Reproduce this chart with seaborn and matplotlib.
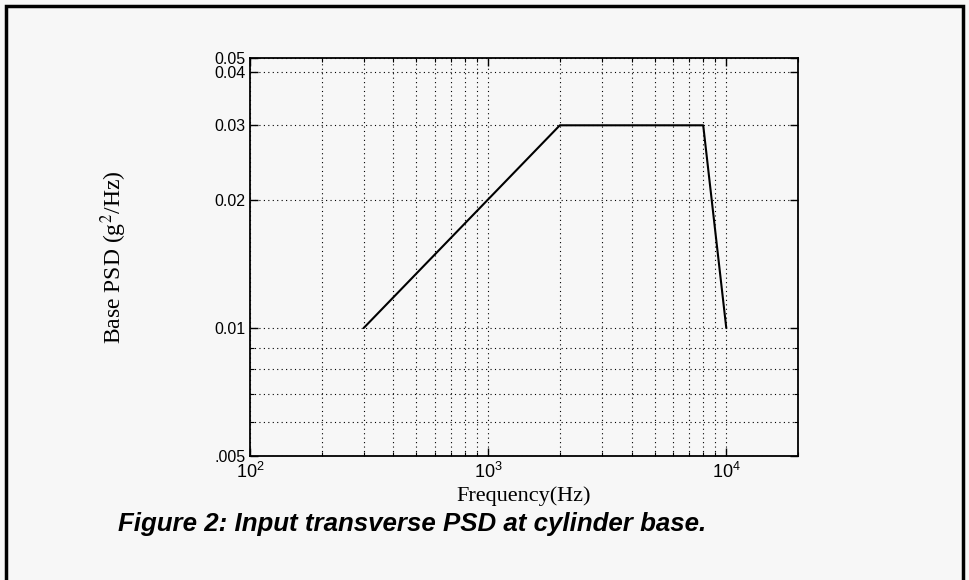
import numpy as np
import pandas as pd
import matplotlib
matplotlib.use("Agg")
import matplotlib.pyplot as plt
import matplotlib.ticker as mticker
from matplotlib.patches import Rectangle
import seaborn as sns

# PSD breakpoints
freq_hz = [300, 2000, 8000, 10000]
psd_g2hz = [0.01, 0.03, 0.03, 0.01]

ytick_vals = [0.005, 0.01, 0.02, 0.03, 0.04, 0.0432]
ytick_labels = [".005", "0.01", "0.02", "0.03", "0.04", "0.05"]
yminor_vals = [0.006, 0.007, 0.008, 0.009]
xtick_vals = [1e2, 1e3, 1e4]
xtick_labels = [r"$10^2$", r"$10^3$", r"$10^4$"]

BG = "#f7f7f7"

sns.set_style("ticks")
plt.rcParams["font.family"] = ["Liberation Sans", "DejaVu Sans"]
plt.rcParams["text.color"] = "black"
plt.rcParams["mathtext.fontset"] = "custom"
plt.rcParams["mathtext.rm"] = "Liberation Sans"
plt.rcParams["mathtext.it"] = "Liberation Sans:italic"

df = pd.DataFrame({"freq": freq_hz, "psd": psd_g2hz})

fig = plt.figure(figsize=(9.69, 5.80), dpi=100, facecolor=BG)
ax = fig.add_axes([0.258, 0.2138, 0.5655, 0.6862])
ax.set_facecolor(BG)

sns.lineplot(data=df, x="freq", y="psd", color="black", linewidth=1.5, ax=ax,
             sort=False, estimator=None)

ax.set_xscale("log")
ax.set_yscale("log")
ax.set_xlim(100, 20000)
ax.set_ylim(0.005, 0.0432)

ax.xaxis.set_major_locator(mticker.FixedLocator(xtick_vals))
ax.xaxis.set_major_formatter(mticker.FixedFormatter(xtick_labels))
ax.xaxis.set_minor_locator(mticker.LogLocator(base=10, subs=np.arange(2, 10)))
ax.xaxis.set_minor_formatter(mticker.NullFormatter())

ax.yaxis.set_major_locator(mticker.FixedLocator(ytick_vals))
ax.yaxis.set_major_formatter(mticker.FixedFormatter(ytick_labels))
ax.yaxis.set_minor_locator(mticker.FixedLocator(yminor_vals))
ax.yaxis.set_minor_formatter(mticker.NullFormatter())

ax.grid(True, which="both", linestyle=(0, (1, 3)), color="black", linewidth=0.8)
ax.tick_params(which="both", direction="in", top=True, right=True,
               colors="black", labelcolor="black")
ax.tick_params(axis="y", labelsize=11.5)
ax.tick_params(axis="x", labelsize=13, pad=4)
ax.tick_params(which="major", length=6, width=1)
ax.tick_params(which="minor", length=3, width=0.8)
for s in ax.spines.values():
    s.set_linewidth(1.3)
    s.set_color("black")

serif = ["Liberation Serif", "DejaVu Serif"]
ax.set_xlabel("Frequency(Hz)", family=serif, fontsize=16, color="black")
ax.xaxis.set_label_coords(0.5, -0.075)
ax.set_ylabel(r"Base PSD (g$^{2}$/Hz)", family=serif, fontsize=17,
              color="black", math_fontfamily="stix")
ax.yaxis.set_label_coords(-0.22, 0.5)

fig.text(0.122, 0.097, "Figure 2: Input transverse PSD at cylinder base.",
         fontsize=18.6, fontweight="bold", fontstyle="italic", ha="left",
         va="center", color="black", family=["Liberation Sans", "DejaVu Sans"])

fig.patches.append(Rectangle((0.006, -0.02), 0.988, 1.01, transform=fig.transFigure,
                             fill=False, edgecolor="black", linewidth=2.5))

fig.savefig("out.png", dpi=100, facecolor=BG)
